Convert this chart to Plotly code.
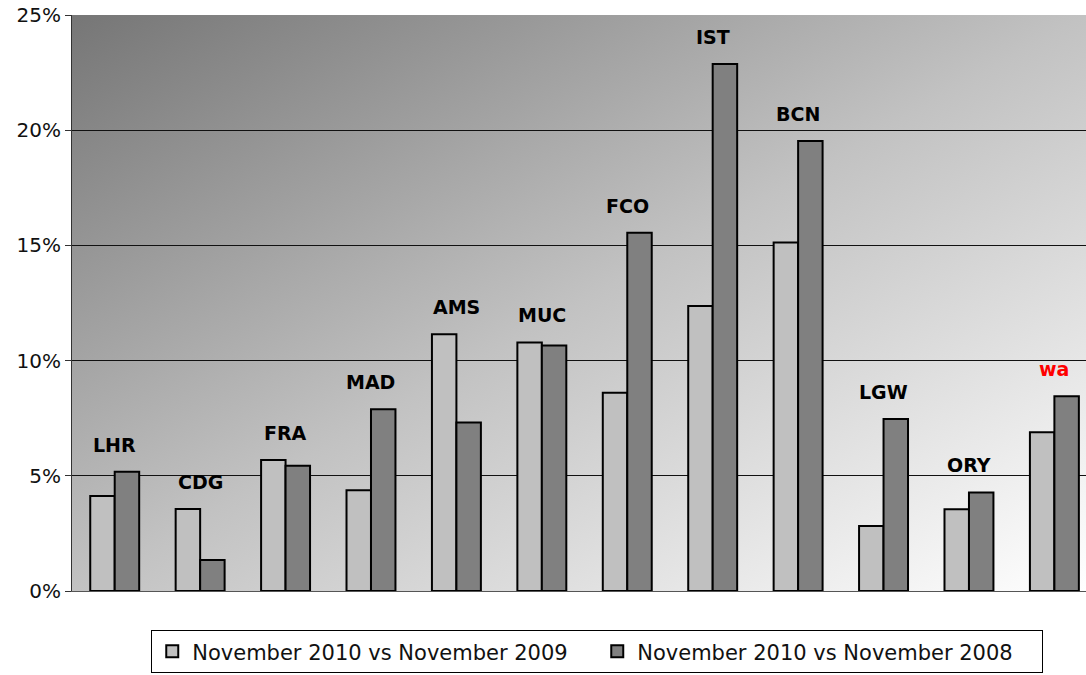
import base64
import plotly.graph_objects as go

categories = ["LHR", "CDG", "FRA", "MAD", "AMS", "MUC", "FCO", "IST", "BCN", "LGW", "ORY", "wa"]
vs_2009 = [4.12, 3.56, 5.69, 4.37, 11.14, 10.79, 8.61, 12.37, 15.13, 2.82, 3.55, 6.89]
vs_2008 = [5.18, 1.35, 5.44, 7.89, 7.31, 10.65, 15.55, 22.87, 19.53, 7.47, 4.28, 8.45]
label_colors = ["#000000"] * 11 + ["#ff0000"]
series_names = ["November 2010 vs November 2009", "November 2010 vs November 2008"]
y_ticks = [0, 5, 10, 15, 20, 25]
y_tick_text = ["0%", "5%", "10%", "15%", "20%", "25%"]

svg = (
    '<svg xmlns="http://www.w3.org/2000/svg" width="100" height="100" viewBox="0 0 100 100" preserveAspectRatio="none">'
    '<defs><linearGradient id="g" x1="0" y1="0" x2="1" y2="1">'
    '<stop offset="0" stop-color="#767676"/>'
    '<stop offset="0.5" stop-color="#c2c2c2"/>'
    '<stop offset="1" stop-color="#ffffff"/>'
    '</linearGradient></defs>'
    '<rect x="0" y="0" width="100" height="100" fill="url(#g)"/></svg>'
)
bg_src = "data:image/svg+xml;base64," + base64.b64encode(svg.encode()).decode()

fig = go.Figure()
fig.add_trace(go.Bar(
    x=categories, y=vs_2009, name=series_names[0],
    marker=dict(color="#c0c0c0", line=dict(color="#000000", width=2)),
))
fig.add_trace(go.Bar(
    x=categories, y=vs_2008, name=series_names[1],
    marker=dict(color="#808080", line=dict(color="#000000", width=2)),
))

for c, a, b, col in zip(categories, vs_2009, vs_2008, label_colors):
    fig.add_annotation(
        x=c, y=max(a, b), text=c, showarrow=False,
        yanchor="bottom", yshift=14,
        font=dict(family="DejaVu Sans", size=19, color=col, weight="bold"),
    )

fig.update_layout(
    width=1086, height=675,
    margin=dict(l=72, r=0, t=15, b=84),
    paper_bgcolor="#ffffff",
    plot_bgcolor="rgba(0,0,0,0)",
    barmode="group",
    bargap=0.427,
    bargroupgap=0,
    font=dict(family="DejaVu Sans", size=18, color="#000000"),
    images=[dict(source=bg_src, xref="paper", yref="paper", x=0, y=1,
                 sizex=1, sizey=1, sizing="stretch", layer="below",
                 xanchor="left", yanchor="top")],
    xaxis=dict(
        range=[-0.5, 11.37], showticklabels=False, showgrid=False,
        showline=True, linecolor="#555555", linewidth=1, ticks="", zeroline=False,
    ),
    yaxis=dict(
        range=[0, 25], tickvals=y_ticks, ticktext=y_tick_text,
        showgrid=True, gridcolor="#111111", gridwidth=1,
        showline=True, linecolor="#333333", linewidth=1,
        ticks="outside", ticklen=6, tickcolor="#333333",
        zeroline=False,
        tickfont=dict(family="DejaVu Sans", size=20, color="#111111"),
    ),
    showlegend=True,
    legend=dict(
        orientation="h", x=0.518, xanchor="center", y=-0.068, yanchor="top",
        bordercolor="#000000", borderwidth=1, bgcolor="#ffffff",
        font=dict(family="DejaVu Sans", size=21, color="#111111"),
        traceorder="normal", entrywidth=400,
    ),
)

fig.write_html(
    "out.html",
    config={"displayModeBar": False},
    post_script="document.body.style.margin='0';document.body.style.overflow='hidden';",
)
